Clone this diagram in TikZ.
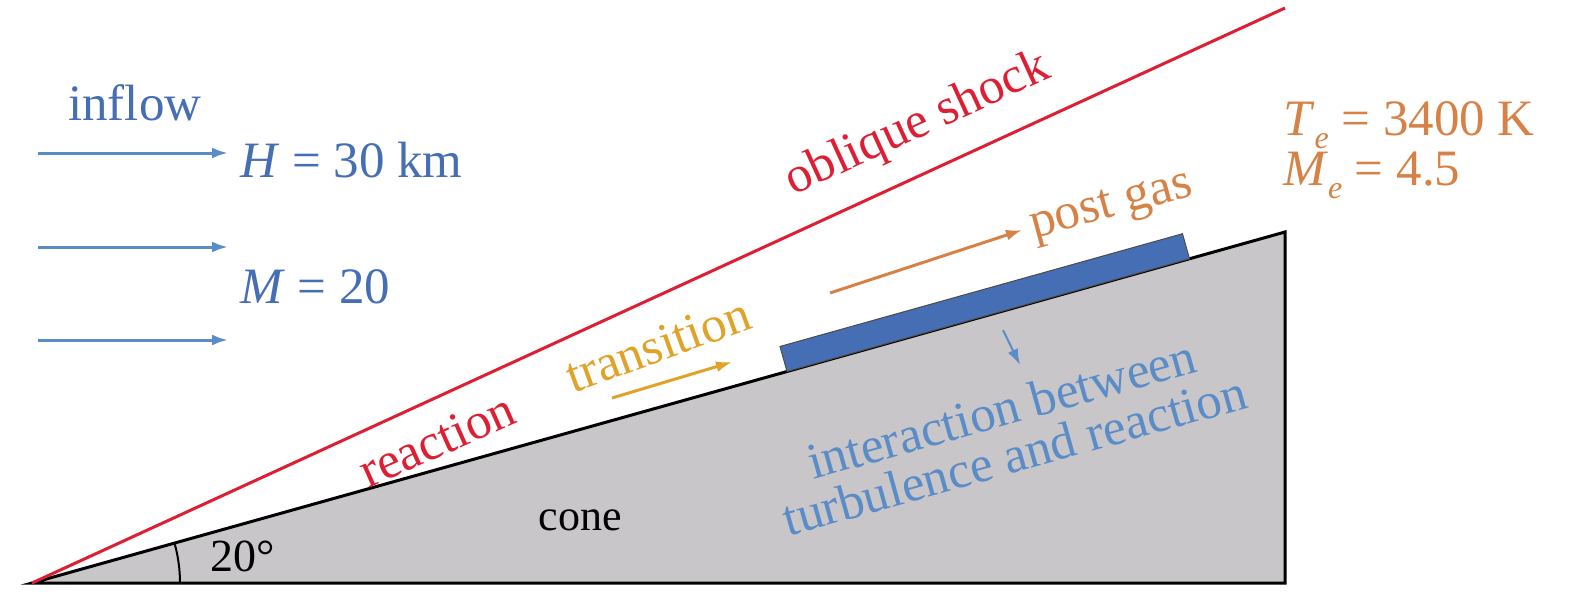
\documentclass[tikz,border=0pt]{standalone}
\usepackage{fontspec}
\setmainfont{Liberation Serif}
\usetikzlibrary{arrows.meta}
\definecolor{shockred}{RGB}{222,30,50}
\definecolor{flowblue}{RGB}{70,110,180}
\definecolor{lightblue}{RGB}{90,140,200}
\definecolor{gasorange}{RGB}{214,130,70}
\definecolor{transyellow}{RGB}{224,162,40}
\definecolor{conegray}{RGB}{200,198,200}
\newcommand{\sub}[1]{\raisebox{-0.25em}{\fontsize{32}{36}\selectfont\textit{#1}}}
\tikzset{
  lbl/.style={inner sep=0pt,font=\fontsize{51}{56}\selectfont},
  flow/.style={-{Latex[length=16pt,width=11pt]},line width=3pt}
}
\begin{document}
\begin{tikzpicture}[x=1pt,y=-1pt]
\useasboundingbox (0,0) rectangle (1575,598);
% cone
\coordinate (apex) at (32,583);
\coordinate (base) at (1285,583);
\coordinate (tip) at (1285,232);
\filldraw[fill=conegray,draw=black,line width=3pt] (apex)--(base)--(tip)--cycle;
% shock
\coordinate (shockend) at (1285,8);
\draw[shockred,line width=3pt] (apex)--(shockend);
% angle
\draw[line width=2pt] (180,583) arc[start angle=0,end angle=-15.65,radius=148];
\node[lbl,anchor=west,font=\fontsize{46}{50}\selectfont] (ang) at (210,556) {20°};
\node[lbl,font=\fontsize{44}{50}\selectfont] (cone) at (580,520) {cone};
% blue bar
\begin{scope}[shift={(787,371.5)},rotate=15.65]
\filldraw[fill=flowblue,draw=black!70,line width=1pt] (0,0) rectangle (418,-26);
\end{scope}
% inflow
\node[lbl,text=flowblue,anchor=west] (inflow) at (68,103) {inflow};
\foreach \y in {153,247,340}
  \draw[flow,lightblue] (38,\y)--(228,\y);
\node[lbl,text=flowblue,anchor=west] (H) at (240,160) {\textit{H} = 30 km};
\node[lbl,text=flowblue,anchor=west] (M) at (240,287) {\textit{M} = 20};
% labels
\node[lbl,text=shockred,rotate=24.6] (oblique) at (918,125) {oblique shock};
\node[lbl,text=shockred,rotate=24] (reaction) at (437,440) {reaction};
\node[lbl,text=transyellow,rotate=20] (transition) at (658,345) {transition};
\node[lbl,text=gasorange,rotate=15] (post) at (1112,208) {post gas};
\node[lbl,text=gasorange,anchor=west,align=left] (Te) at (1283,150) {\textit{T}\sub{e} = 3400 K\\[-6pt]\textit{M}\sub{e} = 4.5};
\node[lbl,text=lightblue,rotate=15.65,align=center] (inter) at (1008,432) {interaction between\\[-8pt]turbulence and reaction};
% arrows
\coordinate (ya) at (612,398); \coordinate (yb) at (732,362);
\draw[flow,transyellow] (ya)--(yb);
\coordinate (oa) at (830,293); \coordinate (ob) at (1022,230);
\draw[flow,gasorange] (oa)--(ob);
\coordinate (ba) at (1003,330); \coordinate (bb) at (1020,365);
\draw[flow,lightblue,line width=2pt] (ba)--(bb);
\end{tikzpicture}
\end{document}
